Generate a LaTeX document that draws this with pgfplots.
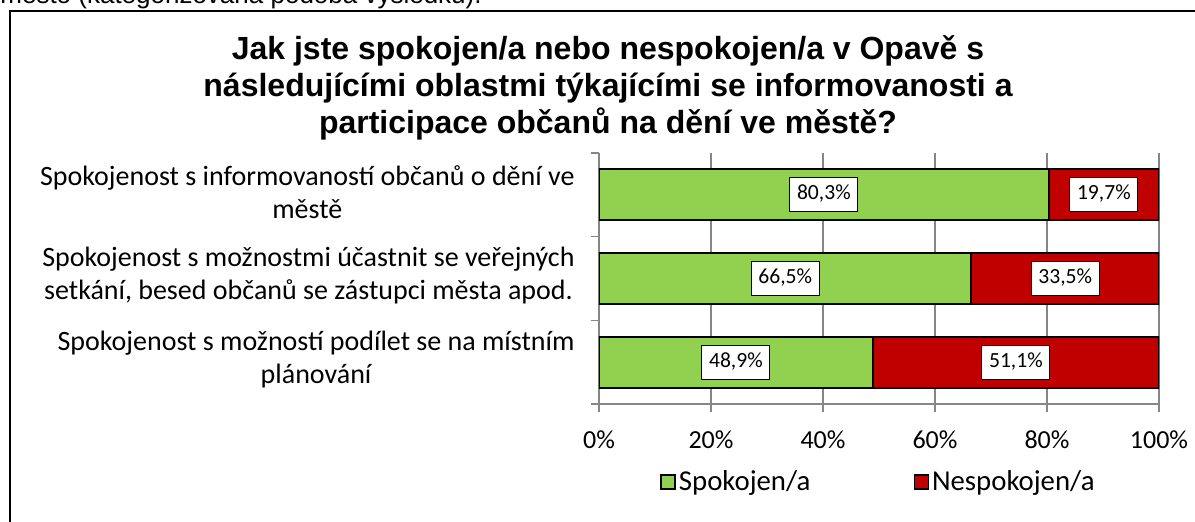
\documentclass[border=0pt]{standalone}
\usepackage{fontspec}
\setmainfont{Carlito}
\newfontfamily\arial{Liberation Sans}
\usepackage{pgfplots}
\pgfplotsset{compat=1.18}
\usepackage{pgfplotstable}
\definecolor{sgreen}{HTML}{92D050}
\definecolor{sred}{HTML}{C00000}
\definecolor{axgray}{HTML}{868686}

\pgfplotstableread{
cat sp nesp
2 80.3 19.7
1 66.5 33.5
0 48.9 51.1
}\datatable

\begin{document}
\begin{tikzpicture}
\useasboundingbox (0,0) rectangle (597.5pt,-261pt);
\clip (0,0) rectangle (597.5pt,-261pt);
\begin{scope}[x=0.5pt,y=-0.5pt]
\draw[line width=1.1pt] (10,700) -- (10,11) -- (1400,11) -- (1400,700) -- cycle;
\node[anchor=base west, inner sep=0pt, font=\arial\fontsize{13}{15}\selectfont] at (0,4) {město (kategorizovaná podoba výsledku).};
\node[anchor=base, inner sep=0pt, font=\arial\bfseries\fontsize{16}{18}\selectfont] at (608,60) {Jak jste spokojen/a nebo nespokojen/a v Opavě s};
\node[anchor=base, inner sep=0pt, font=\arial\bfseries\fontsize{16}{18}\selectfont] at (608,97) {následujícími oblastmi týkajícími se informovanosti a};
\node[anchor=base, inner sep=0pt, font=\arial\bfseries\fontsize{16}{18}\selectfont] at (608,134) {participace občanů na dění ve městě?};
\end{scope}

\begin{axis}[
  at={(299.5pt,-202pt)}, anchor=south west,
  width=280pt, height=125.5pt, scale only axis,
  xmin=0, xmax=100, ymin=-0.5, ymax=2.5,
  xbar stacked, bar width=25.5pt,
  axis x line*=bottom, axis y line*=left,
  axis line style={axgray, line width=0.75pt},
  xtick={0,20,40,60,80,100},
  xticklabels={0\%,20\%,40\%,60\%,80\%,100\%},
  xticklabel style={font=\fontsize{13}{15}\selectfont, inner sep=0pt, yshift=-9pt},
  xmajorgrids, grid style={axgray, line width=0.75pt},
  tick align=outside, major tick length=4pt,
  xtick style={axgray, line width=0.75pt},
  ytick={-0.5,0.5,1.5,2.5}, yticklabels={},
  ytick style={axgray, line width=0.75pt},
  extra y ticks={0,1,2},
  extra y tick labels={{Spokojenost s možností podílet se na místním\\plánování},{Spokojenost s možnostmi účastnit se veřejných\\setkání, besed občanů se zástupci města apod.},{Spokojenost s informovaností občanů o dění ve\\městě}},
  extra y tick style={major tick length=0pt, ytick style={draw=none}},
  yticklabel style={align=center, font=\fontsize{14}{16.5}\selectfont, inner sep=0pt, xshift=-12pt, yshift=1.5pt},
  legend style={at={(0.5,-0.31)}, anchor=center, draw=none, fill=none,
    font=\fontsize{14.4}{16}\selectfont, nodes={inner sep=1.5pt},
    /tikz/every even column/.append style={column sep=50pt}},
  legend columns=2,
  legend image code/.code={\draw[#1, line width=0.75pt] (0pt,-3.5pt) rectangle (7pt,3.5pt);},
]
\addplot[fill=sgreen, draw=black, line width=1pt] table[x=sp, y=cat] {\datatable};
\addlegendentry{Spokojen/a}
\addplot[fill=sred, draw=black, line width=1pt] table[x=nesp, y=cat] {\datatable};
\addlegendentry{Nespokojen/a}
\end{axis}

\begin{axis}[
  at={(299.5pt,-202pt)}, anchor=south west,
  width=280pt, height=125.5pt, scale only axis,
  xmin=0, xmax=100, ymin=-0.5, ymax=2.5,
  hide axis, clip=false,
  /pgf/number format/assume math mode=true,
  point meta=explicit,
  nodes near coords={\pgfmathprintnumber[fixed,fixed zerofill,precision=1,use comma]{\pgfplotspointmeta}\%},
  every node near coord/.append style={anchor=center, fill=white, draw=black, line width=0.5pt,
    font=\fontsize{10.8}{12}\selectfont, inner xsep=3.6pt, inner ysep=3.5pt,
    text height=7.5pt, text depth=2.5pt},
]
\addplot[only marks, mark=*, mark size=0pt, mark options={draw=none, fill=none}]
  table[x expr=\thisrow{sp}/2, y=cat, meta=sp] {\datatable};
\addplot[only marks, mark=*, mark size=0pt, mark options={draw=none, fill=none}]
  table[x expr=\thisrow{sp}+\thisrow{nesp}/2, y=cat, meta=nesp] {\datatable};
\end{axis}
\end{tikzpicture}
\end{document}
